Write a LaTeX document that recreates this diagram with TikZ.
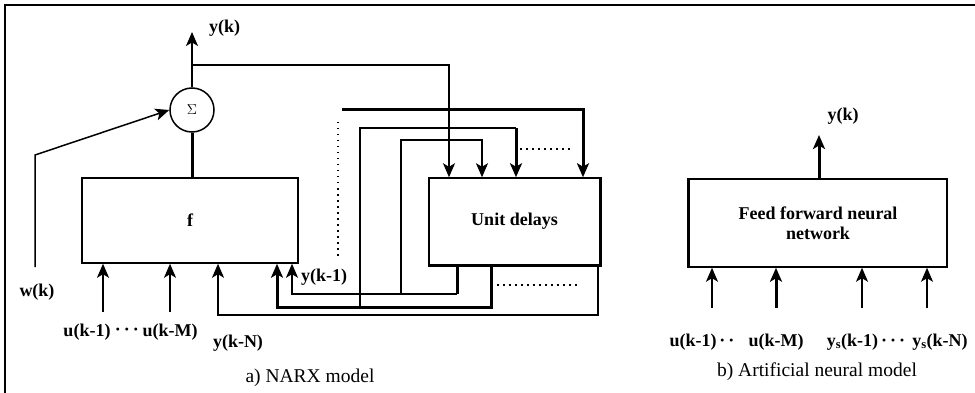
\documentclass[tikz,border=0pt]{standalone}
\usepackage{fontspec}
\setmainfont{Liberation Serif}
\usetikzlibrary{arrows.meta, positioning, calc}

\begin{document}
\begin{tikzpicture}[x=1pt, y=-1pt,
    sig/.style={line width=1.5pt},
    bus/.style={line width=3pt},
    tip/.style={-{Stealth[length=14pt, width=12pt, inset=3.5pt]}},
    block/.style={draw, line width=1.5pt, rectangle, inner sep=0pt},
    lbl/.style={font=\fontsize{18}{20}\selectfont\bfseries, inner sep=0pt},
    captext/.style={font=\fontsize{19.5}{22}\selectfont, inner sep=0pt}]
    \useasboundingbox (0,0) rectangle (975,393);
    \draw[line width=2.6pt] (5,393) -- (5,5) -- (975,5);

    % a) NARX model
    \node[block, circle, minimum size=44pt, font=\fontsize{15}{15}\selectfont] (sum) at (192,110) {$\Sigma$};
    \node[block, minimum width=216pt, minimum height=85pt, lbl] (f) at (190,220.5) {f};
    \node[block, minimum width=171pt, minimum height=87pt, lbl] (ud) at (514.5,221.5) {Unit delays};
    \draw[line width=2.8pt] (ud.north east) -- (ud.south east) -- (ud.south west);

    \coordinate (yk) at (192,32);
    \coordinate (br) at (192,65);
    \coordinate (yb) at (449,65);
    \coordinate (w0) at (35,267);
    \coordinate (w1) at (35,155);
    \coordinate (u1) at (103,312);
    \coordinate (uM) at (170,312);
    \coordinate (n1) at (218,315);
    \coordinate (n2) at (598,315);
    \coordinate (m1) at (277,307);
    \coordinate (m2) at (491,307);
    \coordinate (k1) at (292,294);
    \coordinate (k2) at (457,294);
    \coordinate (j1) at (360,128);
    \coordinate (j2) at (516,128);
    \coordinate (i1) at (401,140);
    \coordinate (i2) at (482,140);
    \coordinate (h1) at (342,110);
    \coordinate (h2) at (583,110);

    \draw[sig, tip] (sum) -- (yk);
    \draw[sig, tip] (br) -- (yb) -- (yb |- ud.north);
    \draw[bus] (sum.south |- f.north) -- (sum.south);
    \draw[sig, tip] (w0) -- (w1) -- (sum.west);
    \draw[sig, tip] (u1) -- (u1 |- f.south);
    \draw[sig, tip] (uM) -- (uM |- f.south);
    \draw[sig, tip] (n2 |- ud.south) -- (n2) -- (n1) -- (n1 |- f.south);
    \draw[bus, tip] (m2 |- ud.south) -- (m2) -- (m1) -- (m1 |- f.south);
    \draw[bus] (k2 |- ud.south) -- (k2);
    \draw[sig, tip] (k2) -- (k1) -- (k1 |- f.south);
    \draw[sig] (j1 |- m1) -- (j1) -- (j2);
    \draw[bus, tip] (j2) -- (j2 |- ud.north);
    \draw[sig, tip] (i1 |- k1) -- (i1) -- (i2) -- (i2 |- ud.north);
    \draw[bus, tip] (h1) -- (h2) -- (h2 |- ud.north);
    \draw[sig, dash pattern=on 1.5pt off 4.5pt] (338,122) -- (338,260);
    \draw[sig, dash pattern=on 1.5pt off 4.5pt] (520,149) -- (572,149);
    \draw[sig, dash pattern=on 1.5pt off 4.5pt] (497,285) -- (580,285);

    \node[lbl, anchor=west] (lyk) at (209,28) {y(k)};
    \node[lbl] (lw) at (37,292) {w(k)};
    \node[lbl] (lu1) at (87,332) {u(k-1)};
    \node[lbl] (ldots) at (127,332) {\textperiodcentered\,\textperiodcentered\,\textperiodcentered};
    \node[lbl] (luM) at (170,332) {u(k-M)};
    \node[lbl] (lyN) at (238,343) {y(k-N)};
    \node[lbl, anchor=west] (ly1) at (301,277) {y(k-1)};
    \node[captext] (capa) at (310,378) {a) NARX model};

    % b) Artificial neural model
    \node[block, minimum width=258pt, minimum height=88pt, lbl, align=center] (nn) at (818,223) {Feed forward neural\\network};
    \draw[line width=2.8pt] (nn.north west) -- (nn.south west);
    \coordinate (o) at (819,135);
    \draw[bus, tip] (nn.north -| o) -- (o);
    \node[lbl] (lyo) at (843,116) {y(k)};
    \foreach \x/\s in {712/sig, 776/bus, 862/sig, 927/sig} {
        \coordinate (a\x) at (\x,308);
        \draw[\s, tip] (a\x) -- (a\x |- nn.south);
    }
    \node[lbl] (lb1) at (702,342) {u(k-1)\,\textperiodcentered\,\textperiodcentered};
    \node[lbl] (lb2) at (776,342) {u(k-M)};
    \node[lbl] (lb3) at (866,342) {y\textsubscript{s}(k-1)\,\textperiodcentered\,\textperiodcentered\,\textperiodcentered};
    \node[lbl] (lb4) at (940,342) {y\textsubscript{s}(k-N)};
    \node[captext] (capb) at (817,372) {b) Artificial neural model};
\end{tikzpicture}
\end{document}
